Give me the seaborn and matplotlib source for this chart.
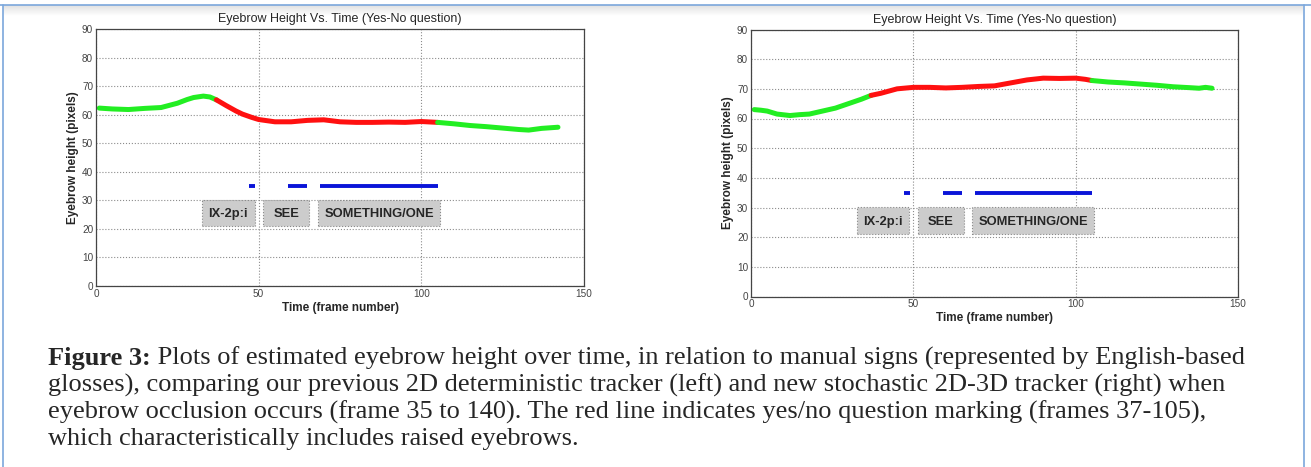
import matplotlib
matplotlib.use("Agg")
import matplotlib.pyplot as plt
from matplotlib.patches import Rectangle
import seaborn as sns
import numpy as np
import pandas as pd

# eyebrow height (frame number -> pixels)
frames_left = [1, 5, 10, 15, 20, 25, 28, 30, 33, 35, 37, 40, 43, 45, 48, 50, 55, 60, 65, 70,
               75, 80, 85, 90, 95, 100, 105, 110, 115, 120, 125, 130, 133, 137, 142]
height_left = [62.3, 62.0, 61.8, 62.2, 62.5, 64.0, 65.3, 66.0, 66.5, 66.2, 65.2, 63.2, 61.3, 60.2, 59.0,
               58.3, 57.5, 57.5, 58.0, 58.2, 57.5, 57.3, 57.3, 57.4, 57.3, 57.6, 57.3, 56.8,
               56.2, 55.8, 55.3, 54.8, 54.6, 55.2, 55.6]

frames_right = [1, 3, 5, 8, 12, 15, 18, 22, 26, 30, 34, 37, 40, 45, 50, 55, 60, 65, 70, 75,
                80, 85, 90, 95, 100, 103, 105, 110, 115, 120, 125, 130, 135, 138, 140, 142]
height_right = [63.0, 62.8, 62.5, 61.5, 61.0, 61.3, 61.5, 62.5, 63.5, 65.0, 66.5, 67.8, 68.5, 70.0,
                70.5, 70.5, 70.3, 70.5, 70.8, 71.0, 72.0, 73.0, 73.6, 73.5, 73.6, 73.2, 72.8,
                72.3, 72.0, 71.6, 71.2, 70.7, 70.4, 70.2, 70.5, 70.2]

# yes/no question marking (red), frames 37-105
question_start, question_end = 37, 105

# manual signs (blue bars) and their glosses (grey boxes)
sign_start = [47, 59, 69]
sign_end = [49, 65, 105]
sign_level = 35
gloss_labels = ["IX-2p:i", "SEE", "SOMETHING/ONE"]
gloss_left = [32.5, 51.3, 68.2]
gloss_right = [48.8, 65.6, 105.8]
gloss_bottom, gloss_top = 21.0, 30.2

title = "Eyebrow Height Vs. Time (Yes-No question)"
caption_bold = "Figure 3:"
caption_lines = [
    " Plots of estimated eyebrow height over time, in relation to manual signs (represented by English-based",
    "glosses), comparing our previous 2D deterministic tracker (left) and new stochastic 2D-3D tracker (right) when",
    "eyebrow occlusion occurs (frame 35 to 140). The red line indicates yes/no question marking (frames 37-105),",
    "which characteristically includes raised eyebrows.",
]

sns.set_style("white")
plt.rcParams['font.family'] = ['Liberation Sans', 'DejaVu Sans']


def make_segments(frames, heights):
    df = pd.DataFrame({'frame': frames, 'height': heights})
    pre = df[df.frame <= question_start].assign(part='before')
    mid = df[(df.frame >= question_start) & (df.frame <= question_end)].assign(part='question')
    post = df[df.frame >= question_end].assign(part='after')
    return pd.concat([pre, mid, post], ignore_index=True)


def draw_panel(ax, frames, heights):
    seg = make_segments(frames, heights)
    sns.lineplot(data=seg, x='frame', y='height', hue='part', units='part', estimator=None,
                 sort=False, legend=False, linewidth=3.6, solid_capstyle='round',
                 palette={'before': '#22ee22', 'question': '#ff1010', 'after': '#22ee22'}, ax=ax)
    ax.hlines([sign_level] * len(sign_start), sign_start, sign_end, color='#0a14d8', linewidth=2.8)
    for lab, x0, x1 in zip(gloss_labels, gloss_left, gloss_right):
        ax.add_patch(Rectangle((x0, gloss_bottom), x1 - x0, gloss_top - gloss_bottom,
                               facecolor='#cccccc', edgecolor='#8a8a8a', linestyle=':', linewidth=0.8, zorder=3))
        ax.text((x0 + x1) / 2, (gloss_bottom + gloss_top) / 2 - 0.4, lab, ha='center', va='center',
                fontsize=9.3, fontweight='bold', zorder=4)
    ax.set_xlim(0, 150)
    ax.set_ylim(0, 90)
    ax.set_xticks([0, 50, 100, 150])
    ax.set_yticks(range(0, 91, 10))
    ax.grid(True, linestyle=':', color='#8c8c8c', linewidth=0.8)
    ax.tick_params(labelsize=7.2, labelcolor='#444444', length=0, pad=2)
    for s in ax.spines.values():
        s.set_color('#444444')
        s.set_linewidth(0.9)
    ax.set_title(title, fontsize=9, pad=5)
    ax.set_xlabel("Time (frame number)", fontsize=8.5, fontweight='bold', labelpad=2)
    ax.set_ylabel("Eyebrow height (pixels)", fontsize=8.5, fontweight='bold', labelpad=2)


fig = plt.figure(figsize=(13.11, 4.67), dpi=100)
W, H = 1311, 467

# window frame: grey band at the top (drawn behind the titles)
band = fig.add_axes([3 / W, 1 - 16 / H, 1300 / W, 11 / H], zorder=-1)
band.imshow(np.linspace(0.88, 1.0, 20).reshape(-1, 1), cmap='gray', vmin=0, vmax=1, aspect='auto')
band.set_axis_off()

ax1 = fig.add_axes([96 / W, 1 - 286 / H, 488 / W, 257 / H])
ax2 = fig.add_axes([751 / W, 1 - 296.5 / H, 487 / W, 267 / H])
draw_panel(ax1, frames_left, height_left)
draw_panel(ax2, frames_right, height_right)

# blue border
fig.add_artist(plt.Line2D([0, 1], [1 - 4.5 / H] * 2, color='#7ba7dc', linewidth=1.2))
fig.add_artist(plt.Line2D([2.5 / W] * 2, [0, 1 - 4.5 / H], color='#7ba7dc', linewidth=1.2))
fig.add_artist(plt.Line2D([1303.5 / W] * 2, [0, 1 - 4.5 / H], color='#7ba7dc', linewidth=1.2))

# caption
cap_font = ['Liberation Serif', 'DejaVu Serif']
cap_size = 19
baselines = [365, 391.7, 418.3, 445]
cap_x = 48
renderer = fig.canvas.get_renderer()
bold = fig.text(cap_x / W, 1 - baselines[0] / H, caption_bold, family=cap_font, fontsize=cap_size,
                fontweight='bold', va='baseline')
bw = bold.get_window_extent(renderer).width
for i, line in enumerate(caption_lines):
    x = (cap_x + bw) / W if i == 0 else cap_x / W
    fig.text(x, 1 - baselines[i] / H, line, family=cap_font, fontsize=cap_size, va='baseline')

fig.savefig("out.png", dpi=100)
